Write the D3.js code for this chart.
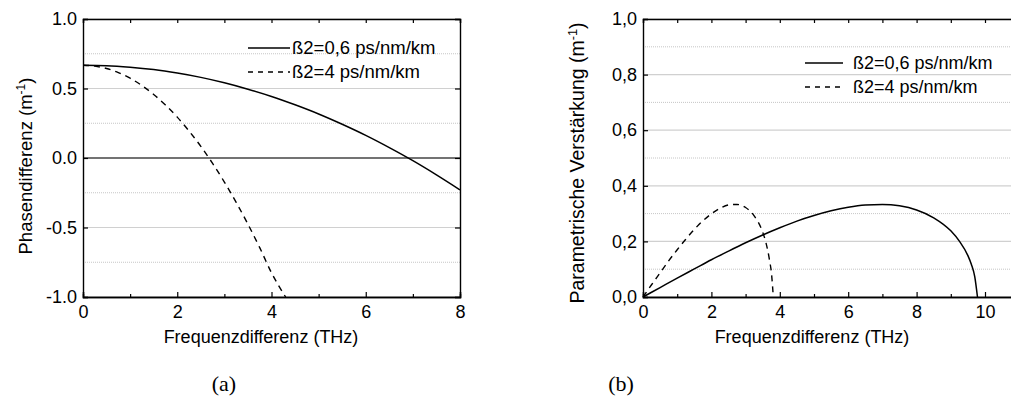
<!DOCTYPE html>
<html>
<head>
<meta charset="utf-8">
<script src="https://cdn.jsdelivr.net/npm/d3@7"></script>
<style>
  body { margin: 0; background: #fff; }
  svg { display: block; font-family: "Liberation Sans", Arial, sans-serif; }
</style>
</head>
<body>
<div id="chart"></div>
<script>
// values
var legendLabels = ["ß2=0,6 ps/nm/km", "ß2=4 ps/nm/km"];

// (a) phase difference
var phaseX06 = [0, 0.5, 1, 1.5, 2, 2.5, 3, 3.5, 4, 4.5, 5, 5.5, 6, 6.5, 7, 7.5, 8];
var phaseY06 = [0.667, 0.664, 0.653, 0.636, 0.611, 0.580, 0.541, 0.495, 0.443, 0.383, 0.317, 0.243, 0.163, 0.075, -0.019, -0.121, -0.229];
var phaseX4 = [0, 0.25, 0.5, 0.75, 1, 1.25, 1.5, 1.75, 2, 2.25, 2.5, 2.75, 3, 3.25, 3.5, 3.75, 4, 4.3];
var phaseY4 = [0.667, 0.661, 0.644, 0.614, 0.574, 0.521, 0.457, 0.381, 0.294, 0.194, 0.084, -0.039, -0.173, -0.319, -0.476, -0.645, -0.826, -1.0];
var phaseYTicks = ["1.0", "0.5", "0.0", "-0.5", "-1.0"];

// (b) parametric gain
var gainX06 = [0, 0.5, 1, 1.5, 2, 2.5, 3, 3.5, 4, 4.5, 5, 5.5, 6, 6.5, 7, 7.5, 8, 8.5, 9, 9.25, 9.5, 9.6, 9.7, 9.78];
var gainY06 = [0, 0.034, 0.068, 0.101, 0.134, 0.165, 0.195, 0.223, 0.249, 0.273, 0.293, 0.310, 0.323, 0.331, 0.333, 0.328, 0.313, 0.285, 0.238, 0.201, 0.149, 0.118, 0.073, 0];
var gainX4 = [0, 0.25, 0.5, 0.75, 1, 1.25, 1.5, 1.75, 2, 2.25, 2.5, 2.75, 3, 3.25, 3.5, 3.6, 3.7, 3.76, 3.81];
var gainY4 = [0, 0.044, 0.087, 0.130, 0.170, 0.208, 0.243, 0.274, 0.299, 0.319, 0.331, 0.333, 0.322, 0.292, 0.233, 0.193, 0.132, 0.081, 0];
var gainYTicks = ["1,0", "0,8", "0,6", "0,4", "0,2", "0,0"];

var W = 1011, H = 408;
var svg = d3.select("#chart").append("svg")
  .attr("width", W).attr("height", H);

function zip(xs, ys) {
  return xs.map(function(x, i) { return [x, ys[i]]; });
}

function drawPanel(p) {
  var x = d3.scaleLinear().domain(p.xDomain).range([p.left, p.right]);
  var y = d3.scaleLinear().domain(p.yDomain).range([p.bottom, p.top]);
  var g = svg.append("g");

  // minor grid (dotted)
  g.selectAll("line.minor").data(p.yMinor).enter().append("line")
    .attr("x1", p.left).attr("x2", p.right)
    .attr("y1", function(d) { return y(d); }).attr("y2", function(d) { return y(d); })
    .attr("stroke", "#b8b8b8").attr("stroke-width", 0.8)
    .attr("stroke-dasharray", "1,1");
  // major grid
  g.selectAll("line.major").data(p.yMajor).enter().append("line")
    .attr("x1", p.left).attr("x2", p.right)
    .attr("y1", function(d) { return y(d); }).attr("y2", function(d) { return y(d); })
    .attr("stroke", "#d0d0d0").attr("stroke-width", 1.2);

  if (p.zeroLine) {
    g.append("line")
      .attr("x1", p.left).attr("x2", p.right)
      .attr("y1", y(0)).attr("y2", y(0))
      .attr("stroke", "#000").attr("stroke-width", 1.2);
  }

  // axes with inward ticks
  var bottomAxis = d3.axisBottom(x).tickValues(p.xMajor).tickSize(-5).tickPadding(8)
    .tickFormat(d3.format("d"));
  g.append("g").attr("transform", "translate(0," + p.bottom + ")").call(bottomAxis);
  var bottomMinor = d3.axisBottom(x).tickValues(p.xMinor).tickSize(-3).tickFormat("");
  g.append("g").attr("transform", "translate(0," + p.bottom + ")").call(bottomMinor);
  var topAxis = d3.axisTop(x).tickValues(p.xMajor.concat(p.xMinor)).tickSize(-4).tickFormat("");
  g.append("g").attr("transform", "translate(0," + p.top + ")").call(topAxis);

  var leftAxis = d3.axisLeft(y).tickValues(p.yMajor).tickSize(-5).tickPadding(6)
    .tickFormat(function(d, i) { return p.yLabels[i]; });
  g.append("g").attr("transform", "translate(" + p.left + ",0)").call(leftAxis);
  var rightAxis = d3.axisRight(y).tickValues(p.yMajor).tickSize(-5).tickFormat("");
  g.append("g").attr("transform", "translate(" + p.right + ",0)").call(rightAxis);

  g.selectAll(".domain").attr("stroke", "#000").attr("stroke-width", 1.4);
  g.selectAll(".tick line").attr("stroke", "#000").attr("stroke-width", 1.2);
  g.selectAll(".tick text").attr("font-size", 18).attr("fill", "#000")
    .attr("font-family", "Liberation Sans, Arial, sans-serif");

  // curves
  var line = d3.line()
    .x(function(d) { return x(d[0]); })
    .y(function(d) { return y(d[1]); })
    .curve(d3.curveMonotoneX);
  g.append("path").datum(zip(p.x1, p.y1))
    .attr("d", line).attr("fill", "none")
    .attr("stroke", "#000").attr("stroke-width", 1.5);
  g.append("path").datum(zip(p.x2, p.y2))
    .attr("d", line).attr("fill", "none")
    .attr("stroke", "#000").attr("stroke-width", 1.4)
    .attr("stroke-dasharray", "6,5");

  // legend
  var lg = g.append("g");
  legendLabels.forEach(function(lab, i) {
    var ly = p.legendY + i * 24;
    lg.append("line")
      .attr("x1", p.legendX).attr("x2", p.legendX + p.legendLen)
      .attr("y1", ly).attr("y2", ly)
      .attr("stroke", "#000").attr("stroke-width", 1.4)
      .attr("stroke-dasharray", i === 0 ? null : "5,5");
    lg.append("text")
      .attr("x", p.legendTextX).attr("y", ly + 6)
      .attr("font-size", p.legendFont).text(lab);
  });

  // axis titles
  svg.append("text")
    .attr("x", p.xTitleX).attr("y", p.bottom + 46)
    .attr("text-anchor", "middle").attr("font-size", 18)
    .text("Frequenzdifferenz (THz)");

  var yt = svg.append("text")
    .attr("transform", "translate(" + p.yTitleX + "," + p.yTitleY + ") rotate(-90)")
    .attr("text-anchor", "middle").attr("font-size", p.yTitleFont);
  yt.append("tspan").text(p.yTitle + " (m");
  yt.append("tspan").attr("font-size", p.yTitleFont * 0.65).attr("dy", -7).text("-1");
  yt.append("tspan").attr("dy", 7).text(")");

  // caption
  svg.append("text")
    .attr("x", p.captionX).attr("y", 391)
    .attr("text-anchor", "middle")
    .attr("font-family", "Liberation Serif, Times New Roman, serif")
    .attr("font-size", 22)
    .text(p.caption);
}

drawPanel({
  left: 83, right: 460, top: 19, bottom: 297,
  xDomain: [0, 8], yDomain: [-1, 1],
  xMajor: [0, 2, 4, 6, 8], xMinor: [1, 3, 5, 7],
  yMajor: [1, 0.5, 0, -0.5, -1], yMinor: [0.75, 0.25, -0.25, -0.75],
  yLabels: phaseYTicks,
  zeroLine: true,
  x1: phaseX06, y1: phaseY06, x2: phaseX4, y2: phaseY4,
  legendX: 248, legendLen: 42, legendTextX: 292, legendY: 48, legendFont: 18.5,
  xTitleX: 261,
  yTitle: "Phasendifferenz", yTitleX: 32, yTitleY: 166, yTitleFont: 18.5,
  caption: "(a)", captionX: 224
});

drawPanel({
  left: 643, right: 1020, top: 19, bottom: 297,
  xDomain: [0, 377 / 34.2], yDomain: [0, 1],
  xMajor: [0, 2, 4, 6, 8, 10], xMinor: [1, 3, 5, 7, 9],
  yMajor: [1, 0.8, 0.6, 0.4, 0.2, 0], yMinor: [0.9, 0.7, 0.5, 0.3, 0.1],
  yLabels: gainYTicks,
  zeroLine: false,
  x1: gainX06, y1: gainY06, x2: gainX4, y2: gainY4,
  legendX: 805, legendLen: 38, legendTextX: 853, legendY: 63, legendFont: 18,
  xTitleX: 812,
  yTitle: "Parametrische Verstärkung", yTitleX: 584, yTitleY: 163, yTitleFont: 19.5,
  caption: "(b)", captionX: 621
});
</script>
</body>
</html>
